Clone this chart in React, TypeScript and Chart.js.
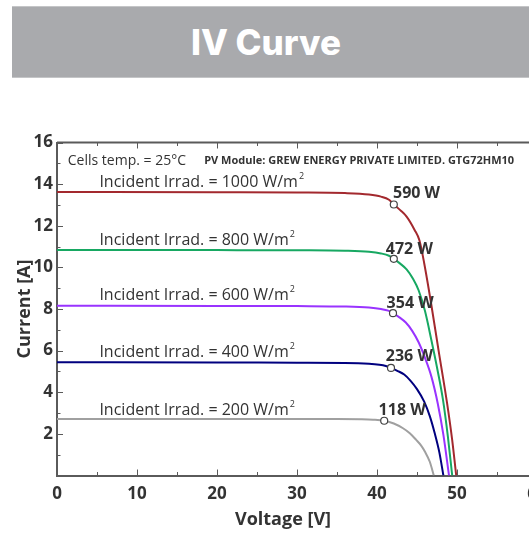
import React, { useEffect, useRef } from 'react';
import { Chart, registerables } from 'chart.js';

Chart.register(...registerables);

// ---- data ----
const irradiances = [1000, 800, 600, 400, 200];
const seriesColors = ['#a3292e', '#17a862', '#9933ff', '#00007f', '#a0a0a0'];

const voltage1000 = [0, 20, 30, 36, 39, 40.5, 41.5, 42.1, 42.9, 43.7, 44.7, 45.3, 45.9, 46.75, 47.7, 48.75, 49.4, 49.9];
const current1000 = [13.62, 13.61, 13.6, 13.57, 13.5, 13.4, 13.25, 13.02, 12.75, 12.44, 11.8, 11.3, 10.2, 8.3, 6.0, 3.5, 1.7, 0];

const voltage800 = [0, 20, 30, 36, 39, 40.5, 41.5, 42.1, 42.9, 43.7, 44.5, 45.2, 46.0, 46.8, 47.6, 48.25, 48.85, 49.4];
const current800 = [10.84, 10.83, 10.82, 10.8, 10.75, 10.67, 10.56, 10.41, 10.18, 9.9, 9.45, 8.9, 7.9, 6.5, 5.0, 3.63, 1.9, 0];

const voltage600 = [0, 20, 30, 36, 39, 40.5, 41.4, 42.0, 42.8, 43.6, 44.4, 45.2, 46.0, 46.8, 47.6, 48.3, 49.0];
const current600 = [8.16, 8.15, 8.14, 8.12, 8.07, 8.0, 7.92, 7.8, 7.6, 7.35, 6.95, 6.4, 5.65, 4.75, 3.45, 1.95, 0];

const voltage400 = [0, 20, 30, 36, 39, 40.3, 41.1, 41.75, 42.6, 43.4, 44.2, 45.0, 45.9, 46.6, 47.2, 47.8, 48.3];
const current400 = [5.44, 5.43, 5.42, 5.41, 5.37, 5.32, 5.26, 5.17, 5.02, 4.85, 4.55, 4.15, 3.55, 2.85, 2.05, 1.1, 0];

const voltage200 = [0, 20, 30, 35, 38, 39.5, 40.9, 42.1, 43.25, 44.1, 44.9, 45.5, 46.0, 46.6, 47.1];
const current200 = [2.72, 2.72, 2.71, 2.71, 2.7, 2.68, 2.63, 2.5, 2.27, 2.03, 1.71, 1.45, 1.14, 0.66, 0];

const curveVoltages = [voltage1000, voltage800, voltage600, voltage400, voltage200];
const curveCurrents = [current1000, current800, current600, current400, current200];

const mppVoltage = [42.1, 42.1, 42.0, 41.75, 40.9];
const mppCurrent = [13.02, 10.41, 7.8, 5.17, 2.63];
const mppPowerLabels = ['590 W', '472 W', '354 W', '236 W', '118 W'];
const powerLabelV = [42.0, 41.1, 41.2, 41.1, 40.2];
const powerLabelI = [13.56, 10.88, 8.26, 5.73, 3.15];

const irradLabels = irradiances.map((v) => `Incident Irrad. = ${v} W/m`);
const irradSuperscript = '2';
const irradLabelV = 5.3;
const irradLabelI = [14.1, 11.3, 8.64, 5.9, 3.14];

const cellsTempText = 'Cells temp. = 25°C';
const moduleText = 'PV Module: GREW ENERGY PRIVATE LIMITED. GTG72HM10';
const infoTextV = [1.35, 18.4];
const infoTextI = 15.12;

const titleText = 'IV Curve';
const xAxisTitle = 'Voltage [V]';
const yAxisTitle = 'Current [A]';

const xTicks = [0, 10, 20, 30, 40, 50, 60];
const yTicks = [2, 4, 6, 8, 10, 12, 14, 16];
const xMinorStep = 5;
const yMinorStep = 1;

const FONT = '"Open Sans", "DejaVu Sans", sans-serif';
const AXIS_COLOR = '#5a5a5a';
const TEXT_COLOR = '#333333';

const decorPlugin = {
  id: 'decor',
  afterDraw(chart: any) {
    const { ctx, chartArea } = chart;
    const xs = chart.scales.x;
    const ys = chart.scales.y;
    ctx.save();
    // top frame line
    ctx.strokeStyle = AXIS_COLOR;
    ctx.lineWidth = 2;
    ctx.beginPath();
    ctx.moveTo(chartArea.left, chartArea.top);
    ctx.lineTo(chartArea.right + 2, chartArea.top);
    ctx.stroke();
    // inward tick marks
    ctx.lineWidth = 1;
    for (let v = 0; v <= 60; v += xMinorStep) {
      const px = Math.round(xs.getPixelForValue(v)) + 0.5;
      const len = v % 10 === 0 ? 6 : 3.5;
      ctx.beginPath();
      ctx.moveTo(px, chartArea.bottom);
      ctx.lineTo(px, chartArea.bottom - len);
      ctx.moveTo(px, chartArea.top);
      ctx.lineTo(px, chartArea.top + len);
      ctx.stroke();
    }
    for (let v = 0; v <= 16; v += yMinorStep) {
      const py = Math.round(ys.getPixelForValue(v)) + 0.5;
      const len = v % 2 === 0 ? 6 : 3.5;
      ctx.beginPath();
      ctx.moveTo(chartArea.left, py);
      ctx.lineTo(chartArea.left + len, py);
      ctx.stroke();
    }
    // texts
    ctx.fillStyle = TEXT_COLOR;
    ctx.textBaseline = 'middle';
    ctx.textAlign = 'left';
    ctx.font = `14px ${FONT}`;
    ctx.fillText(cellsTempText, xs.getPixelForValue(infoTextV[0]), ys.getPixelForValue(infoTextI));
    ctx.font = `bold 11px ${FONT}`;
    ctx.fillText(moduleText, xs.getPixelForValue(infoTextV[1]), ys.getPixelForValue(infoTextI));
    irradLabels.forEach((t, i) => {
      const px = xs.getPixelForValue(irradLabelV);
      const py = ys.getPixelForValue(irradLabelI[i]);
      ctx.font = `16px ${FONT}`;
      ctx.fillText(t, px, py);
      const w = ctx.measureText(t).width;
      ctx.font = `9px ${FONT}`;
      ctx.fillText(irradSuperscript, px + w + 1, py - 6);
    });
    ctx.font = `bold 16px ${FONT}`;
    mppPowerLabels.forEach((t, i) => {
      ctx.fillText(t, xs.getPixelForValue(powerLabelV[i]), ys.getPixelForValue(powerLabelI[i]));
    });
    // axis titles
    ctx.font = `bold 18px ${FONT}`;
    ctx.textAlign = 'center';
    ctx.fillText(xAxisTitle, (chartArea.left + chartArea.right) / 2 - 14, chartArea.bottom + 44);
    ctx.translate(25, (chartArea.top + chartArea.bottom) / 2);
    ctx.rotate(-Math.PI / 2);
    ctx.fillText(yAxisTitle, 0, 0);
    ctx.restore();
  },
};

export default function App() {
  const canvasRef = useRef<HTMLCanvasElement | null>(null);

  useEffect(() => {
    if (!canvasRef.current) return;
    const curveSets = curveVoltages.map((vs, i) => ({
      type: 'line' as const,
      label: `${irradiances[i]} W/m²`,
      data: vs.map((v, k) => ({ x: v, y: curveCurrents[i][k] })),
      borderColor: seriesColors[i],
      borderWidth: 2,
      pointRadius: 0,
      fill: false,
      cubicInterpolationMode: 'monotone' as const,
      order: 1,
    }));
    const mppSet = {
      type: 'scatter' as const,
      label: 'Maximum power point',
      data: mppVoltage.map((v, k) => ({ x: v, y: mppCurrent[k] })),
      pointRadius: 3.5,
      pointBackgroundColor: '#ffffff',
      pointBorderColor: '#444444',
      pointBorderWidth: 1.2,
      showLine: false,
      order: 0,
    };
    const chart = new Chart(canvasRef.current, {
      type: 'line',
      data: { datasets: [mppSet as any, ...curveSets] },
      options: {
        responsive: false,
        animation: false,
        devicePixelRatio: 1,
        layout: { padding: { top: 52.5, right: 23, left: 0, bottom: 0 } },
        plugins: {
          legend: { display: false },
          tooltip: { enabled: false },
          title: { display: false },
        },
        scales: {
          x: {
            type: 'linear',
            min: 0,
            max: 60,
            grid: { display: false, drawTicks: false },
            border: { display: true, color: AXIS_COLOR, width: 2 },
            ticks: {
              font: { family: FONT, size: 17, weight: 'bold' },
              color: TEXT_COLOR,
              padding: 8,
              maxRotation: 0,
              autoSkip: false,
            },
            afterBuildTicks: (s: any) => {
              s.ticks = xTicks.map((v) => ({ value: v }));
            },
            afterFit: (s: any) => {
              s.height = 58.5;
            },
          },
          y: {
            type: 'linear',
            min: 0,
            max: 16,
            grid: { display: false, drawTicks: false },
            border: { display: true, color: AXIS_COLOR, width: 2 },
            ticks: {
              font: { family: FONT, size: 17, weight: 'bold' },
              color: TEXT_COLOR,
              padding: 4,
              autoSkip: false,
            },
            afterBuildTicks: (s: any) => {
              s.ticks = yTicks.map((v) => ({ value: v }));
            },
            afterFit: (s: any) => {
              s.width = 57;
            },
          },
        },
      } as any,
      plugins: [decorPlugin],
    });
    if ((document as any).fonts && (document as any).fonts.ready) {
      (document as any).fonts.ready.then(() => {
        try { chart.update(); } catch (e) { /* ignore */ }
      });
    }
    return () => chart.destroy();
  }, []);

  return (
    <div style={{ position: 'absolute', left: 0, top: 0, width: 529, height: 534, overflow: 'hidden', background: '#ffffff' }}>
      <div
        style={{
          position: 'absolute',
          left: 12,
          top: 6,
          width: 530,
          height: 72,
          background: '#a9aaad',
          borderTop: '1px solid #c4c5c7',
          borderBottom: '1px solid #c4c5c7',
          boxSizing: 'border-box',
        }}
      >
        <div
          style={{
            width: 508,
            textAlign: 'center',
            lineHeight: '70px',
            color: '#ffffff',
            fontFamily: 'Inter, "Open Sans", sans-serif',
            fontWeight: 800,
            fontSize: 35,
          }}
        >
          {titleText}
        </div>
      </div>
      <canvas
        ref={canvasRef}
        width={560}
        height={444}
        style={{ position: 'absolute', left: 0, top: 90, width: 560, height: 444, display: 'block' }}
      />
    </div>
  );
}
